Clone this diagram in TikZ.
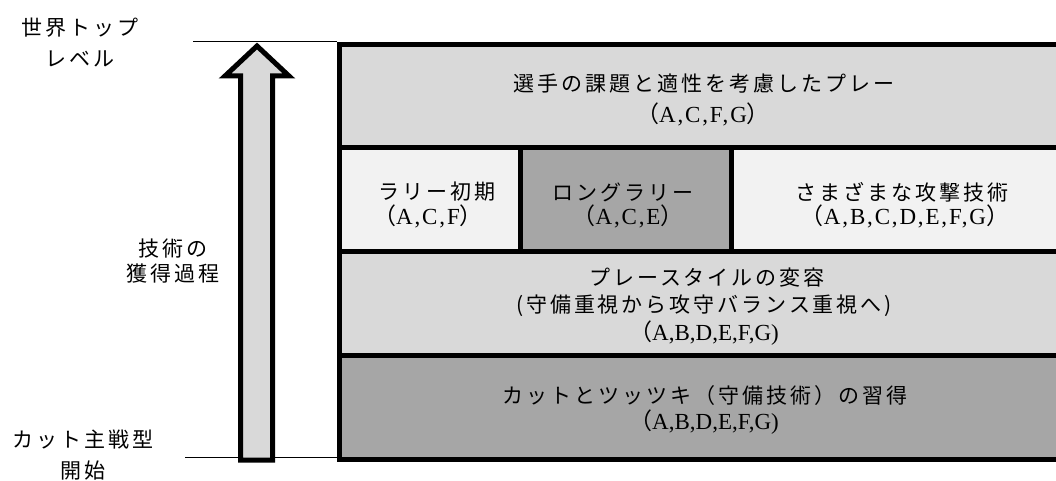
\documentclass[tikz,border=0pt]{standalone}
\usepackage{fontspec}
\setmainfont{Liberation Serif}
\newfontfamily\jp[LetterSpace=14]{Noto Sans CJK JP}
\newfontfamily\jpp{Noto Sans CJK JP}
\newfontfamily\lat[LetterSpace=8]{Liberation Serif}
\definecolor{gA}{HTML}{D9D9D9}
\definecolor{gB}{HTML}{F2F2F2}
\definecolor{gC}{HTML}{A6A6A6}
\tikzset{
  jtext/.style={font=\fontsize{21}{26}\selectfont\jp, inner sep=0, align=center},
  ltext/.style={font=\fontsize{23}{26}\selectfont\lat, inner sep=0},
  ltextc/.style={font=\fontsize{23}{26}\selectfont, inner sep=0},
  cellline/.style={draw=black, line width=5pt},
  thinline/.style={draw=black, line width=1.5pt},
}
\begin{document}
\begin{tikzpicture}[x=1pt,y=-1pt]
\clip (0,0) rectangle (1056,481);
\fill[white] (0,0) rectangle (1056,481);
% cells
\draw[cellline, fill=gA] (339.5,44.5) rectangle (1075,148);
\draw[cellline, fill=gB] (339.5,148) rectangle (520.5,251);
\draw[cellline, fill=gC] (520.5,148) rectangle (731.5,251);
\draw[cellline, fill=gB] (731.5,148) rectangle (1075,251);
\draw[cellline, fill=gA] (339.5,251) rectangle (1075,355);
\draw[cellline, fill=gC] (339.5,355) rectangle (1075,459.5);
% level lines
\coordinate (topL) at (193,41.5);
\coordinate (topR) at (337,41.5);
\coordinate (botL) at (185,457.5);
\coordinate (botR) at (337,457.5);
\draw[thinline] (topL) -- (topR);
\draw[thinline] (botL) -- (botR);
% arrow
\draw[line width=5pt, fill=gA, line join=miter, miter limit=10]
  (257,46) -- (289,76) -- (272.5,76) -- (272.5,460) -- (240.5,460) -- (240.5,76) -- (225,76) -- cycle;
% left labels
\node[jtext] (lvtop) at (80,42.5) {世界トップ\\[5pt]レベル};
\node[jtext] (lvmid) at (173,261.5) {技術の\\[-1pt]獲得過程};
\node[jtext] (lvbot) at (83,455.5) {カット主戦型\\[5pt]開始};
% row 1
\node[jtext] (r1a) at (704,84) {選手の課題と適性を考慮したプレー};
\node[ltext] (r1b) at (703,114) {{\jpp （}A,C,F,G{\jpp ）}};
% row 2
\node[jtext] (r2a1) at (437,192) {ラリー初期};
\node[ltext] (r2a2) at (428,216) {{\jpp （}A,C,F{\jpp ）}};
\node[jtext] (r2b1) at (623,192) {ロングラリー};
\node[ltext] (r2b2) at (628,216) {{\jpp （}A,C,E{\jpp ）}};
\node[jtext] (r2c1) at (902,192) {さまざまな攻撃技術};
\node[ltext] (r2c2) at (905,216) {{\jpp （}A,B,C,D,E,F,G{\jpp ）}};
% row 3
\node[jtext] (r3a) at (707,278) {プレースタイルの変容};
\node[jtext] (r3b) at (704,306) {(守備重視から攻守バランス重視へ)};
\node[ltextc] (r3c) at (704,333) {{\jpp （}A,B,D,E,F,G)};
% row 4
\node[jtext] (r4a) at (705,396) {カットとツッツキ（守備技術）の習得};
\node[ltextc] (r4b) at (704,422) {{\jpp （}A,B,D,E,F,G)};
\end{tikzpicture}
\end{document}
